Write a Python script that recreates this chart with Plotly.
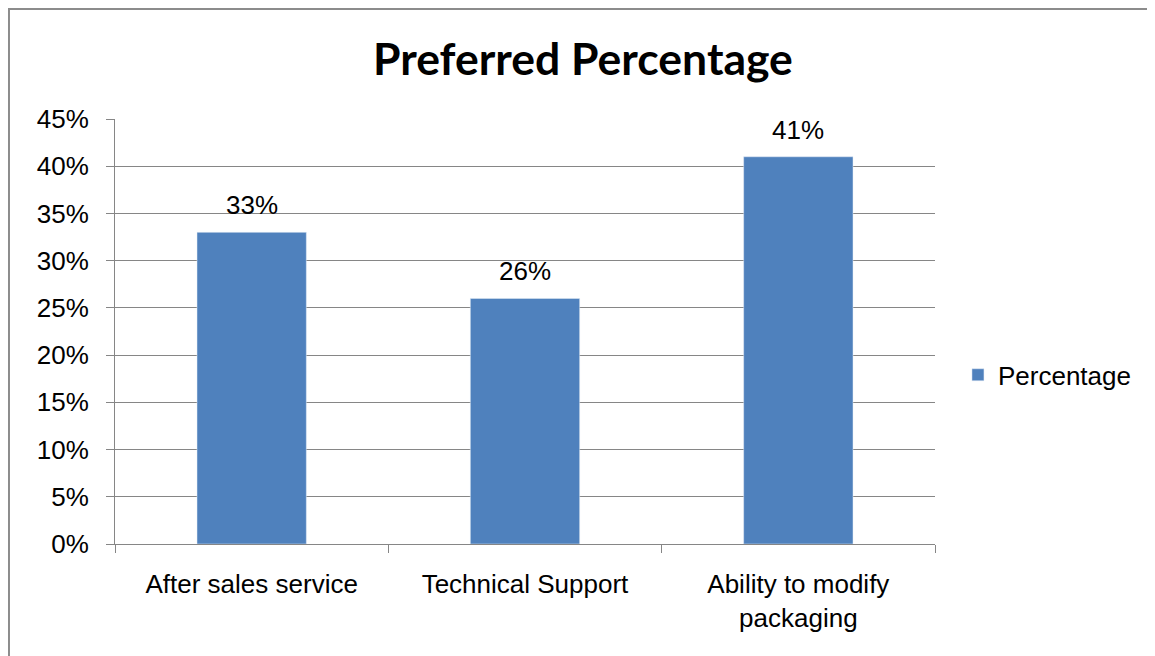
import plotly.graph_objects as go

categories = ["After sales service", "Technical Support", "Ability to modify<br>packaging"]
values = [0.33, 0.26, 0.41]
value_labels = ["33%", "26%", "41%"]
series_name = "Percentage"
title_text = "Preferred Percentage"

BAR = "#4F81BD"
GRID = "#868686"
TICKFONT = dict(family="Liberation Sans, Arial, sans-serif", size=26, color="black")

fig = go.Figure()
fig.add_trace(go.Bar(x=categories, y=values, name=series_name, marker_color=BAR,
                     width=0.4, showlegend=True))

for c, v, t in zip(categories, values, value_labels):
    fig.add_annotation(x=c, y=v, text=t, showarrow=False, xref="x", yref="y",
                       yanchor="bottom", yshift=10, font=TICKFONT)

fig.add_annotation(x=0.571, y=1.1447, xref="paper", yref="paper", text="<b>" + title_text + "</b>",
                   showarrow=False, yanchor="middle", xanchor="center",
                   font=dict(family="Lato, Carlito, Calibri, sans-serif", size=44.5, color="black"))

fig.add_shape(type="rect", xref="paper", yref="paper", x0=-0.1293, y0=-0.4, x1=1.4, y1=1.2588,
              line=dict(color="#8c8c8c", width=2), layer="below")

fig.update_layout(
    width=1147, height=648,
    margin=dict(l=107, r=220, t=111, b=112),
    paper_bgcolor="white", plot_bgcolor="white",
    bargap=0.6,
    legend=dict(x=1.028, y=0.398, xanchor="left", yanchor="middle",
                font=TICKFONT, bgcolor="rgba(0,0,0,0)"),
)
fig.update_yaxes(range=[0, 0.45], dtick=0.05, tick0=0, tickformat=".0%",
                 showgrid=True, gridcolor=GRID, gridwidth=1,
                 showline=True, linecolor=GRID, linewidth=1,
                 ticks="outside", ticklen=8, tickcolor=GRID,
                 tickfont=TICKFONT, ticklabelstandoff=12, zeroline=False)
fig.update_xaxes(showline=True, linecolor=GRID, linewidth=1,
                 ticks="outside", ticklen=8, tickcolor=GRID, tickson="boundaries",
                 tickfont=TICKFONT, ticklabelstandoff=17, showgrid=False)

fig.write_html("out.html")
